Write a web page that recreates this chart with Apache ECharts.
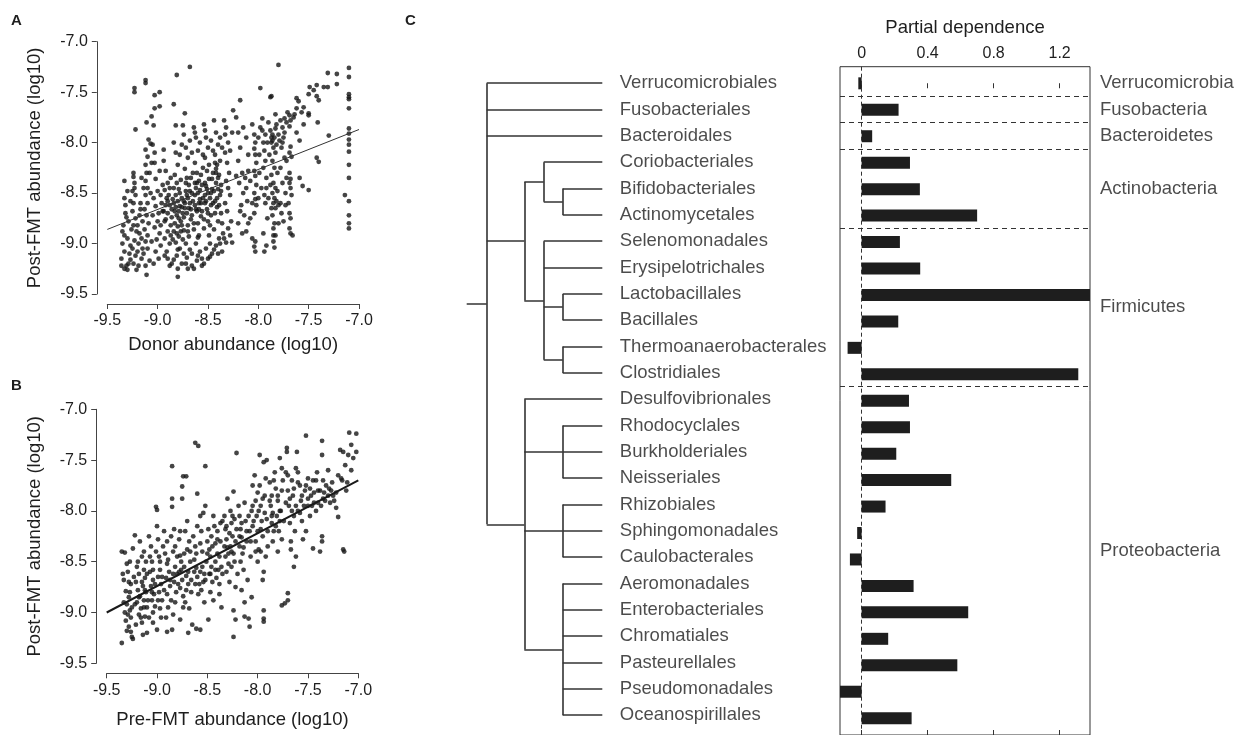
<!DOCTYPE html>
<html>
<head>
<meta charset="utf-8">
<script src="https://cdn.jsdelivr.net/npm/echarts@6/dist/echarts.min.js"></script>
<style>
  html, body { margin: 0; padding: 0; background: #fff; }
  #main { width: 1255px; height: 735px; }
</style>
</head>
<body>
<div id="main"></div>
<script>
// ---- panel A : donor vs post-FMT abundance (log10) ----
var scatterA = [
  [-8.68,-7.25],[-8.81,-7.33],[-9.12,-7.38],[-9.12,-7.41],[-9.23,-7.46],[-9.23,-7.50],[-8.98,-7.50],[-9.03,-7.53],
  [-8.98,-7.64],[-9.03,-7.66],[-8.84,-7.62],[-9.22,-7.87],[-9.06,-7.74],[-9.11,-7.80],[-9.04,-7.83],[-8.73,-7.71],
  [-8.82,-7.83],[-8.75,-7.83],[-9.09,-7.97],[-9.07,-8.01],[-8.94,-8.07],[-9.03,-8.10],
  [-7.80,-7.23],[-7.98,-7.46],[-8.18,-7.58],[-7.87,-7.54],
  [-9.33,-8.38],[-9.33,-8.55],[-9.32,-8.70],[-9.34,-8.82],[-9.33,-8.92],[-9.35,-9.00],[-9.33,-9.08],[-9.36,-9.15],
  [-9.31,-9.22],[-9.30,-9.26],[-9.32,-8.62],[-9.30,-8.48],[-9.29,-8.78],[-9.30,-8.95],[-9.28,-9.10],
  [-9.36,-9.22],[-9.33,-9.25],[-9.29,-9.20],[-9.27,-9.02],[-9.35,-8.88],[-9.31,-8.74],[-9.27,-8.58],[-9.25,-8.48],
  [-9.24,-8.30],[-9.24,-8.34],[-9.23,-8.40],[-9.23,-8.45],[-9.22,-8.52],[-9.24,-8.60],[-9.25,-8.68],[-9.22,-8.75],
  [-9.24,-8.82],[-9.21,-8.88],[-9.23,-8.97],[-9.25,-9.05],[-9.22,-9.12],[-9.24,-9.20],[-9.21,-9.26],[-9.18,-8.72],
  [-9.17,-8.60],[-9.19,-9.00],[-9.16,-9.15],[-9.18,-8.90],[-9.27,-9.16],[-9.26,-8.86],
  [-9.20,-8.82],[-9.20,-9.08],[-9.19,-9.22],[-9.17,-8.66],[-9.16,-8.95],[-9.15,-9.05],[-9.14,-8.45],[-9.16,-8.35],
  [-9.12,-8.07],[-9.10,-8.14],[-9.12,-8.22],[-9.11,-8.30],[-9.12,-8.38],[-9.10,-8.45],[-9.12,-8.52],[-9.10,-8.60],
  [-9.13,-8.66],[-9.11,-8.72],[-9.09,-8.80],[-9.13,-8.86],[-9.10,-8.92],[-9.12,-8.98],[-9.10,-9.05],[-9.14,-9.10],
  [-9.08,-9.17],[-9.12,-9.22],[-9.11,-9.31],[-9.07,-8.50],[-9.06,-8.20],[-9.06,-8.98],[-9.08,-8.30],[-9.15,-8.78],
  [-9.05,-8.02],[-9.03,-8.20],[-9.02,-8.36],[-9.00,-8.48],[-9.04,-8.55],[-9.02,-8.63],[-8.99,-8.70],[-9.00,-8.78],
  [-9.03,-8.84],[-8.98,-8.90],[-9.01,-8.96],[-8.97,-9.02],[-9.02,-9.08],[-8.99,-9.15],[-9.04,-9.20],[-8.96,-8.60],
  [-8.97,-8.82],[-8.95,-8.42],[-9.05,-8.72],[-8.98,-8.28],
  [-8.94,-8.18],[-8.92,-8.28],[-8.90,-8.40],[-8.93,-8.47],[-8.91,-8.55],[-8.88,-8.62],[-8.90,-8.70],[-8.92,-8.76],
  [-8.87,-8.82],[-8.90,-8.88],[-8.93,-8.95],[-8.88,-9.00],[-8.91,-9.08],[-8.90,-9.15],[-8.86,-9.20],[-8.89,-8.52],
  [-8.86,-8.66],[-8.85,-8.96],[-8.87,-8.35],[-8.94,-8.68],
  [-8.97,-8.52],[-8.95,-8.68],[-8.93,-8.78],[-8.92,-8.62],[-8.90,-8.58],[-8.88,-8.45],[-8.87,-8.92],[-8.86,-8.74],
  [-8.85,-8.56],[-8.84,-8.45],[-8.82,-8.64],[-8.81,-8.90],[-8.79,-8.68],[-8.78,-8.50],[-8.77,-8.37],[-8.76,-8.82],
  [-8.75,-8.96],[-8.74,-8.74],[-8.73,-8.60],[-8.72,-8.40],[-8.71,-8.52],[-8.70,-8.88],[-8.69,-8.65],[-8.68,-8.48],
  [-8.67,-8.35],[-8.66,-8.72],[-8.65,-8.58],[-8.64,-8.80],[-8.63,-8.52],[-8.62,-8.66],[-8.61,-8.40],[-8.60,-8.94],
  [-8.59,-8.60],[-8.58,-8.47],[-8.57,-8.32],[-8.56,-8.68],[-8.55,-8.55],[-8.54,-8.76],[-8.53,-8.40],[-8.52,-8.58],
  [-8.51,-8.46],[-8.50,-8.70],[-8.49,-8.22],[-8.48,-8.82],[-8.47,-8.50],[-8.46,-8.36],[-8.45,-8.60],[-8.44,-8.48],
  [-8.43,-8.70],[-8.42,-8.26],[-8.41,-8.55],[-8.40,-8.35],[-8.39,-8.62],[-8.38,-8.18],[-8.37,-8.48],[-8.36,-8.80],
  [-8.78,-8.12],[-8.76,-8.02],[-8.68,-7.98],[-8.66,-8.10],[-8.63,-7.90],[-8.58,-8.00],[-8.55,-8.12],[-8.53,-7.88],
  [-8.47,-7.98],[-8.45,-8.08],[-8.43,-8.20],[-8.38,-7.95],[-8.36,-8.05],[-8.33,-7.92],[-8.28,-8.08],[-8.26,-7.90],
  [-8.93,-9.12],[-8.88,-9.22],[-8.84,-9.16],[-8.80,-9.06],[-8.74,-9.10],[-8.72,-9.20],[-8.66,-9.10],[-8.64,-9.25],
  [-8.60,-9.12],[-8.56,-9.15],[-8.54,-9.20],[-8.50,-9.15],[-8.48,-9.00],[-8.46,-9.10],[-8.44,-9.06],[-8.40,-9.10],
  [-8.38,-9.00],[-8.35,-8.90],[-8.32,-8.99],[-8.28,-8.92],
  [-8.84,-8.00],[-8.82,-8.10],[-8.80,-8.22],[-8.83,-8.32],[-8.81,-8.40],[-8.79,-8.46],[-8.82,-8.52],[-8.80,-8.58],
  [-8.78,-8.63],[-8.83,-8.68],[-8.81,-8.72],[-8.77,-8.78],[-8.80,-8.83],[-8.84,-8.88],[-8.79,-8.93],[-8.82,-8.99],
  [-8.78,-9.05],[-8.81,-9.12],[-8.76,-9.20],[-8.80,-9.25],[-8.80,-9.33],[-8.76,-8.55],[-8.75,-8.70],[-8.77,-8.88],
  [-8.84,-8.60],[-8.79,-8.75],[-8.83,-8.80],[-8.76,-8.64],
  [-8.74,-7.92],[-8.72,-8.05],[-8.70,-8.15],[-8.73,-8.26],[-8.71,-8.35],[-8.69,-8.42],[-8.72,-8.48],[-8.70,-8.55],
  [-8.68,-8.60],[-8.73,-8.65],[-8.71,-8.70],[-8.67,-8.76],[-8.70,-8.82],[-8.74,-8.87],[-8.69,-8.93],[-8.72,-9.00],
  [-8.68,-9.06],[-8.71,-9.14],[-8.66,-9.22],[-8.70,-9.25],[-8.66,-8.50],[-8.65,-8.30],[-8.67,-8.66],[-8.74,-8.58],
  [-8.64,-7.85],[-8.62,-7.95],[-8.60,-8.08],[-8.63,-8.20],[-8.61,-8.30],[-8.59,-8.38],[-8.62,-8.45],[-8.60,-8.50],
  [-8.58,-8.56],[-8.63,-8.62],[-8.61,-8.68],[-8.57,-8.73],[-8.60,-8.80],[-8.64,-8.86],[-8.59,-8.92],[-8.62,-9.00],
  [-8.58,-9.08],[-8.61,-9.17],[-8.56,-9.22],[-8.56,-8.42],[-8.55,-8.25],[-8.57,-8.60],[-8.63,-8.40],[-8.59,-8.66],
  [-8.54,-7.82],[-8.52,-7.95],[-8.50,-8.05],[-8.53,-8.15],[-8.51,-8.28],[-8.49,-8.36],[-8.52,-8.43],[-8.50,-8.50],
  [-8.48,-8.55],[-8.53,-8.60],[-8.51,-8.66],[-8.47,-8.72],[-8.50,-8.78],[-8.54,-8.85],[-8.49,-8.92],[-8.52,-9.05],
  [-8.48,-9.13],[-8.46,-8.46],[-8.45,-8.30],[-8.53,-8.52],[-8.47,-8.62],
  [-8.44,-7.78],[-8.42,-7.90],[-8.40,-8.02],[-8.43,-8.12],[-8.41,-8.22],[-8.39,-8.32],[-8.42,-8.40],[-8.40,-8.46],
  [-8.38,-8.52],[-8.43,-8.58],[-8.41,-8.64],[-8.37,-8.70],[-8.40,-8.78],[-8.44,-8.86],[-8.39,-8.95],[-8.42,-9.02],
  [-8.36,-9.08],[-8.37,-8.42],[-8.42,-8.30],
  [-8.34,-7.78],[-8.32,-7.85],[-8.30,-8.00],[-8.33,-8.10],[-8.31,-8.20],[-8.29,-8.30],[-8.32,-8.38],[-8.30,-8.45],
  [-8.28,-8.52],[-8.33,-8.60],[-8.31,-8.68],[-8.27,-8.78],[-8.30,-8.85],[-8.34,-8.95],[-8.26,-8.99],[-8.25,-7.68],
  [-8.22,-7.75],[-8.20,-7.90],[-8.18,-8.05],[-8.20,-8.18],[-8.16,-8.30],[-8.19,-8.40],[-8.15,-8.50],[-8.17,-8.62],
  [-8.14,-8.72],[-8.20,-8.80],[-8.12,-8.88],[-8.13,-8.35],[-8.10,-8.28],[-8.11,-8.58],[-8.15,-7.85],[-8.22,-8.33],
  [-8.18,-8.68],[-8.16,-8.90],[-8.12,-8.45],[-8.10,-8.80],[-8.08,-8.75],[-8.06,-8.95],
  [-8.06,-7.82],[-8.04,-7.92],[-8.03,-8.00],[-8.04,-8.06],[-8.03,-8.12],[-8.02,-8.20],[-8.04,-8.28],[-8.03,-8.33],
  [-8.02,-8.42],[-8.04,-8.50],[-8.03,-8.56],[-8.02,-8.62],[-8.04,-8.70],[-8.03,-8.98],[-8.04,-9.03],[-8.03,-9.08],
  [-7.98,-7.85],[-7.99,-8.30],[-8.00,-8.55],
  [-8.12,-7.95],[-8.10,-8.12],[-8.08,-8.38],[-8.06,-8.60],[-8.00,-7.95],[-7.99,-8.12],[-7.97,-8.45],[-7.96,-7.76],
  [-7.93,-7.92],[-7.91,-8.00],[-7.90,-8.55],[-7.89,-8.12],[-7.88,-8.42],[-7.87,-8.65],[-7.86,-7.98],[-7.85,-8.92],
  [-7.83,-7.86],[-7.82,-8.02],[-7.81,-8.48],[-7.80,-8.80],[-7.79,-7.98],[-7.78,-8.25],[-7.77,-8.70],[-7.76,-8.00],
  [-7.74,-7.90],[-7.73,-8.62],[-7.72,-8.18],[-7.71,-7.70],[-7.70,-8.60],
  [-7.96,-7.88],[-7.95,-8.00],[-7.94,-8.08],[-7.93,-8.18],[-7.95,-8.25],[-7.92,-8.45],[-7.94,-8.52],[-7.93,-8.60],
  [-7.91,-8.75],[-7.95,-8.90],[-7.92,-9.02],[-7.94,-9.08],[-7.90,-7.80],[-7.92,-8.35],
  [-7.88,-7.88],[-7.86,-7.92],[-7.84,-7.95],[-7.87,-8.00],[-7.85,-8.05],[-7.83,-8.10],[-7.86,-8.18],[-7.84,-8.25],
  [-7.87,-8.32],[-7.85,-8.40],[-7.83,-8.45],[-7.86,-8.50],[-7.84,-8.55],[-7.85,-8.60],[-7.83,-8.65],[-7.86,-8.72],
  [-7.84,-8.80],[-7.85,-8.85],[-7.83,-8.92],[-7.85,-8.98],[-7.84,-9.04],[-7.82,-7.82],[-7.80,-7.92],[-7.81,-8.30],
  [-7.80,-8.62],[-7.88,-7.55],[-7.83,-7.72],[-7.87,-7.95],[-7.82,-8.58],
  [-7.78,-7.78],[-7.76,-7.85],[-7.75,-7.95],[-7.77,-8.05],[-7.74,-8.15],[-7.76,-8.40],[-7.73,-8.50],[-7.75,-8.78],
  [-7.72,-7.80],[-7.74,-7.76],[-7.78,-8.60],[-7.72,-8.35],
  [-7.69,-7.73],[-7.68,-7.78],[-7.69,-7.84],[-7.68,-8.04],[-7.69,-8.10],[-7.67,-8.14],[-7.69,-8.30],[-7.68,-8.36],
  [-7.69,-8.40],[-7.68,-8.45],[-7.67,-8.52],[-7.69,-8.70],[-7.68,-8.75],[-7.69,-8.85],[-7.68,-8.90],[-7.66,-8.92],
  [-7.65,-7.75],
  [-7.62,-7.56],[-7.60,-7.59],[-7.50,-7.52],[-7.42,-7.43],[-7.31,-7.31],[-7.22,-7.32],[-7.22,-7.42],[-7.35,-7.45],
  [-7.31,-7.45],[-7.41,-7.80],[-7.42,-8.15],[-7.40,-8.19],[-7.59,-8.35],[-7.56,-8.43],[-7.50,-8.47],[-7.30,-7.93],
  [-7.59,-7.98],[-7.50,-7.71],[-7.50,-7.73],[-7.45,-7.48],[-7.49,-7.45],[-7.42,-7.54],[-7.40,-7.58],[-7.55,-7.65],
  [-7.57,-7.70],[-7.62,-7.66],[-7.64,-7.72],[-7.62,-7.90],[-7.55,-7.82],
  [-7.10,-7.26],[-7.10,-7.35],[-7.10,-7.52],[-7.10,-7.55],[-7.10,-7.57],[-7.10,-7.66],[-7.10,-7.86],[-7.10,-7.91],
  [-7.10,-7.97],[-7.10,-8.02],[-7.10,-8.09],[-7.10,-8.22],[-7.10,-8.35],[-7.10,-8.58],[-7.10,-8.72],[-7.10,-8.80],
  [-7.10,-8.85],[-7.14,-8.52]
];
var fitA = [[-9.5, -8.86], [-7.0, -7.87]];

// ---- panel B : pre-FMT vs post-FMT abundance (log10) ----
var scatterB = [
  [-9.35,-8.40],[-9.32,-8.41],[-9.30,-8.52],[-9.29,-8.60],[-9.33,-8.68],[-9.31,-8.79],[-9.28,-8.85],[-9.30,-8.92],
  [-9.27,-8.98],[-9.29,-9.02],[-9.31,-9.08],[-9.28,-9.14],[-9.26,-9.19],[-9.35,-9.30],[-9.25,-9.24],[-9.24,-9.26],
  [-9.27,-8.80],[-9.25,-8.95],[-9.26,-9.05],[-9.24,-8.37],[-9.26,-8.72],
  [-9.34,-8.62],[-9.33,-8.90],[-9.32,-9.00],[-9.30,-9.18],[-9.28,-8.70],[-9.27,-8.50],[-9.23,-8.65],[-9.22,-8.92],
  [-9.21,-9.12],[-9.19,-8.50],[-9.18,-8.85],[-9.16,-9.05],[-9.15,-8.70],[-9.13,-8.95],[-9.12,-8.78],[-9.10,-8.62],
  [-9.22,-8.24],[-9.20,-8.55],[-9.18,-8.62],[-9.21,-8.70],[-9.19,-8.78],[-9.17,-8.84],[-9.20,-8.90],[-9.16,-8.96],
  [-9.18,-9.02],[-9.15,-9.10],[-9.14,-9.22],[-9.10,-9.20],[-9.17,-8.30],[-9.15,-8.45],[-9.13,-8.58],[-9.12,-8.66],
  [-9.14,-8.74],[-9.11,-8.80],[-9.13,-8.88],[-9.10,-8.95],[-9.12,-9.04],[-9.11,-8.50],[-9.13,-8.40],
  [-9.09,-8.88],[-9.08,-9.05],[-9.07,-8.45],[-9.05,-8.80],[-9.04,-8.58],[-9.02,-8.72],[-9.01,-8.40],[-8.99,-8.88],
  [-9.08,-8.25],[-9.06,-8.35],[-9.05,-8.50],[-9.07,-8.60],[-9.04,-8.68],[-9.06,-8.74],[-9.03,-8.82],[-9.05,-8.88],
  [-9.02,-8.94],[-9.04,-9.00],[-9.04,-9.10],[-9.00,-9.17],[-9.01,-7.96],[-9.00,-7.99],[-9.00,-8.15],[-8.99,-8.28],
  [-8.98,-8.45],[-8.97,-8.58],[-8.99,-8.65],[-8.96,-8.72],[-8.98,-8.80],[-8.95,-8.88],[-8.97,-8.96],[-8.96,-9.05],
  [-8.97,-8.50],[-8.95,-8.65],[-8.94,-8.35],[-8.93,-8.78],[-8.91,-9.05],[-8.89,-8.48],[-8.87,-8.68],[-8.86,-8.25],
  [-8.93,-8.20],[-8.90,-8.30],[-8.92,-8.42],[-8.90,-8.52],[-8.88,-8.60],[-8.91,-8.66],[-8.87,-8.74],[-8.90,-8.82],
  [-8.86,-8.88],[-8.89,-8.95],[-8.90,-9.19],[-8.85,-9.17],[-8.85,-7.88],[-8.85,-7.96],[-8.85,-7.56],[-8.83,-8.18],
  [-8.84,-8.40],[-8.82,-8.55],[-8.83,-8.70],[-8.81,-8.80],[-8.84,-9.02],[-8.80,-8.62],[-8.82,-8.35],
  [-8.84,-8.62],[-8.82,-8.90],[-8.80,-8.45],[-8.79,-8.72],[-8.77,-8.20],[-8.76,-8.58],[-8.74,-8.95],[-8.73,-8.42],
  [-8.78,-8.28],[-8.77,-8.44],[-8.76,-8.50],[-8.78,-8.60],[-8.75,-8.68],[-8.77,-8.76],[-8.74,-8.84],[-8.77,-9.07],
  [-8.75,-7.76],[-8.75,-7.88],[-8.74,-7.66],[-8.71,-7.66],[-8.72,-8.20],[-8.70,-8.38],[-8.73,-8.55],[-8.71,-8.64],
  [-8.69,-8.72],[-8.72,-8.90],[-8.69,-9.20],[-8.68,-8.30],[-8.67,-8.50],[-8.66,-8.80],[-8.68,-8.96],
  [-8.71,-8.78],[-8.70,-8.10],[-8.69,-8.60],[-8.67,-8.40],[-8.66,-8.68],[-8.65,-9.12],[-8.63,-8.60],[-8.61,-8.42],
  [-8.64,-8.25],[-8.62,-8.35],[-8.63,-8.48],[-8.61,-8.56],[-8.60,-8.65],[-8.62,-8.72],[-8.59,-8.82],[-8.61,-9.16],
  [-8.57,-9.17],[-8.60,-7.83],[-8.62,-7.33],[-8.59,-7.36],[-8.57,-8.05],[-8.56,-8.20],[-8.55,-8.40],[-8.57,-8.60],
  [-8.54,-8.70],[-8.56,-8.78],[-8.53,-8.90],[-8.52,-7.56],[-8.52,-7.95],[-8.51,-8.50],[-8.50,-8.30],[-8.53,-8.62],
  [-8.60,-8.15],[-8.58,-8.72],[-8.57,-8.32],[-8.55,-8.55],[-8.54,-8.02],[-8.52,-8.68],[-8.50,-8.42],[-8.49,-8.18],
  [-8.49,-9.07],[-8.48,-8.38],[-8.47,-8.45],[-8.46,-8.55],[-8.48,-8.62],[-8.45,-8.70],[-8.47,-8.80],[-8.44,-8.88],
  [-8.46,-8.25],[-8.43,-8.15],[-8.42,-8.32],[-8.40,-8.42],[-8.42,-8.50],[-8.39,-8.58],[-8.41,-8.66],[-8.38,-8.72],
  [-8.40,-8.20],[-8.37,-8.30],[-8.36,-8.55],[-8.35,-8.10],[-8.38,-8.82],[-8.36,-8.95],
  [-8.47,-8.62],[-8.45,-8.35],[-8.44,-8.05],[-8.42,-8.58],[-8.40,-8.28],[-8.38,-8.45],[-8.37,-8.12],[-8.35,-8.62],
  [-8.33,-8.05],[-8.32,-8.18],[-8.31,-8.28],[-8.30,-8.36],[-8.32,-8.45],[-8.29,-8.52],[-8.31,-8.60],[-8.28,-8.70],
  [-8.30,-7.88],[-8.27,-8.00],[-8.26,-8.12],[-8.25,-8.25],[-8.27,-8.35],[-8.24,-8.42],[-8.26,-8.55],[-8.24,-8.98],
  [-8.22,-9.07],[-8.24,-9.24],[-8.24,-7.81],[-8.21,-7.43],[-8.23,-8.08],[-8.22,-8.30],[-8.20,-8.62],[-8.22,-8.75],
  [-8.33,-8.35],[-8.31,-8.15],[-8.29,-8.42],[-8.28,-8.22],[-8.26,-8.40],[-8.25,-8.05],[-8.23,-8.50],[-8.21,-8.18],
  [-8.18,-8.05],[-8.17,-8.18],[-8.16,-8.26],[-8.18,-8.35],[-8.15,-8.42],[-8.17,-8.50],[-8.14,-8.58],[-8.16,-8.78],
  [-8.13,-8.90],[-8.13,-9.04],[-8.12,-8.10],[-8.11,-8.30],[-8.10,-8.68],[-8.09,-9.06],[-8.08,-9.14],[-8.08,-8.20],
  [-8.07,-8.45],[-8.06,-8.85],[-8.05,-7.75],[-8.06,-8.00],[-8.05,-8.15],
  [-8.19,-7.95],[-8.18,-8.25],[-8.16,-8.12],[-8.14,-8.36],[-8.13,-7.92],[-8.11,-8.20],[-8.09,-8.05],[-8.07,-8.30],
  [-8.03,-7.65],[-8.02,-7.90],[-8.01,-8.05],[-8.00,-8.20],[-8.02,-8.30],[-7.99,-8.38],[-8.00,-8.50],[-7.98,-7.45],
  [-7.98,-7.75],[-7.97,-7.95],[-7.96,-8.10],[-7.95,-8.25],[-7.97,-8.40],[-7.94,-7.52],[-7.91,-7.50],[-7.94,-8.60],
  [-7.95,-8.68],[-7.94,-8.98],[-7.94,-9.06],[-7.94,-9.09],[-7.92,-7.68],[-7.93,-7.85],[-7.91,-8.08],[-7.90,-8.35],
  [-7.92,-8.45],
  [-8.05,-7.95],[-8.04,-8.10],[-8.02,-8.40],[-8.00,-7.82],[-7.99,-8.00],[-7.97,-8.18],[-7.95,-7.88],[-7.93,-8.02],
  [-7.88,-7.72],[-7.86,-7.85],[-7.87,-7.95],[-7.85,-8.02],[-7.86,-8.12],[-7.84,-8.20],[-7.85,-8.30],[-7.83,-7.62],
  [-7.82,-7.78],[-7.80,-7.90],[-7.81,-8.05],[-7.79,-8.20],[-7.80,-8.40],[-7.78,-7.48],[-7.77,-8.00],[-7.76,-8.28],
  [-7.76,-8.93],[-7.75,-7.70],[-7.78,-8.10],[-7.76,-7.58],
  [-7.90,-8.20],[-7.88,-7.90],[-7.86,-8.05],[-7.84,-7.70],[-7.82,-8.15],[-7.80,-7.85],[-7.78,-8.00],[-7.76,-7.80],
  [-7.73,-8.91],[-7.71,-7.38],[-7.71,-7.42],[-7.72,-7.62],[-7.70,-7.80],[-7.70,-8.81],[-7.70,-8.88],[-7.69,-7.95],
  [-7.68,-8.12],[-7.67,-8.30],[-7.66,-7.70],[-7.65,-7.85],[-7.64,-8.05],[-7.63,-8.20],[-7.62,-8.45],[-7.61,-7.42],
  [-7.60,-7.62],[-7.62,-7.58],[-7.64,-8.55],[-7.60,-8.00],[-7.67,-8.38],
  [-7.74,-8.10],[-7.72,-7.92],[-7.70,-7.65],[-7.68,-7.88],[-7.66,-8.00],[-7.64,-7.78],[-7.62,-7.95],[-7.60,-7.72],
  [-7.58,-7.75],[-7.57,-7.90],[-7.56,-8.10],[-7.55,-8.28],[-7.53,-7.80],[-7.52,-7.26],[-7.52,-8.20],[-7.50,-7.68],
  [-7.50,-7.95],[-7.48,-8.05],[-7.47,-7.85],[-7.45,-8.37],[-7.45,-7.70],[-7.44,-7.92],[-7.42,-8.00],[-7.41,-7.62],
  [-7.40,-7.80],
  [-7.58,-8.02],[-7.56,-7.85],[-7.54,-7.95],[-7.52,-7.75],[-7.50,-7.88],[-7.48,-7.78],[-7.46,-7.95],[-7.44,-7.82],
  [-7.38,-8.40],[-7.37,-7.95],[-7.36,-7.31],[-7.36,-7.45],[-7.36,-8.25],[-7.36,-8.30],[-7.35,-7.70],[-7.34,-7.82],
  [-7.33,-7.90],[-7.30,-7.60],[-7.29,-7.78],[-7.28,-7.92],[-7.26,-7.72],[-7.25,-7.85],[-7.22,-7.97],[-7.20,-8.06],
  [-7.22,-7.82],[-7.20,-7.65],
  [-7.42,-7.70],[-7.40,-7.92],[-7.38,-7.80],[-7.35,-7.88],[-7.32,-7.75],[-7.30,-7.85],[-7.27,-7.80],[-7.24,-7.90],
  [-7.18,-7.40],[-7.15,-7.42],[-7.17,-7.68],[-7.16,-7.70],[-7.15,-8.38],[-7.14,-8.40],[-7.13,-7.55],[-7.12,-7.80],
  [-7.09,-7.23],[-7.07,-7.35],[-7.07,-7.60],[-7.05,-7.48],[-7.02,-7.24],[-7.02,-7.42],[-7.10,-7.45],[-7.11,-7.72]
];
var fitB = [[-9.5, -9.0], [-7.0, -7.70]];

// ---- panel C : orders, partial dependence, phyla ----
var orders = ['Verrucomicrobiales', 'Fusobacteriales', 'Bacteroidales', 'Coriobacteriales', 'Bifidobacteriales',
  'Actinomycetales', 'Selenomonadales', 'Erysipelotrichales', 'Lactobacillales', 'Bacillales',
  'Thermoanaerobacterales', 'Clostridiales', 'Desulfovibrionales', 'Rhodocyclales', 'Burkholderiales',
  'Neisseriales', 'Rhizobiales', 'Sphingomonadales', 'Caulobacterales', 'Aeromonadales', 'Enterobacteriales',
  'Chromatiales', 'Pasteurellales', 'Pseudomonadales', 'Oceanospirillales'];
var partialDep = [-0.02, 0.224, 0.064, 0.293, 0.353, 0.70, 0.232, 0.355, 1.45, 0.222, -0.085, 1.313,
  0.287, 0.293, 0.21, 0.543, 0.145, -0.027, -0.071, 0.315, 0.646, 0.161, 0.58, -0.14, 0.303];
var pdTicks = [0, 0.4, 0.8, 1.2];
var phyla = ['Verrucomicrobia', 'Fusobacteria', 'Bacteroidetes', 'Actinobacteria', 'Firmicutes', 'Proteobacteria'];
var phylumRows = [0, 1, 2, 4, 8.5, 17.75];
var phylumBreaks = [0.5, 1.5, 2.5, 5.5, 11.5];

// tree: leaves are row indices into orders, h = branch position of each node
var tree = {h: 0, c: [0, 1, 2,
  {h: 1.92, c: [
    {h: 2.91, c: [3, {h: 3.88, c: [4, 5]}]},
    {h: 2.91, c: [6, 7, {h: 3.88, c: [8, 9]}, {h: 3.88, c: [10, 11]}]}]},
  {h: 1.92, c: [12, {h: 3.88, c: [13, 14, 15]}, {h: 3.88, c: [16, 17, 18]},
    {h: 3.88, c: [19, 20, 21, 22, 23, 24]}]}]};
var leafH = 5.9, stubH = -1.02;

var segs = [];
function place(n) {
  if (typeof n === 'number') return {y: n, h: leafH};
  var kids = n.c.map(place);
  var y0 = kids[0].y, y1 = kids[kids.length - 1].y;
  segs.push({coords: [[n.h, y0], [n.h, y1]]});
  kids.forEach(function (k) { segs.push({coords: [[n.h, k.y], [k.h, k.y]]}); });
  return {y: (y0 + y1) / 2, h: n.h};
}
var rootPos = place(tree);
segs.push({coords: [[stubH, rootPos.y], [rootPos.h, rootPos.y]]});

var FONT = 'Liberation Sans, Arial, Helvetica, sans-serif';
var INK = '#1e1e1e';
var AXC = '#444';

function logX(grid, name, gap) {
  return {
    gridIndex: grid, type: 'value', min: -9.5, max: -7.0, interval: 0.5, offset: 10,
    axisLine: {lineStyle: {color: AXC, width: 1}},
    axisTick: {length: 5, lineStyle: {color: AXC}},
    axisLabel: {margin: 9, color: INK, fontSize: 16, fontFamily: FONT,
      formatter: function (v) { return v.toFixed(1); }},
    splitLine: {show: false},
    name: name, nameLocation: 'middle', nameGap: gap,
    nameTextStyle: {fontSize: 18.5, color: INK, fontFamily: FONT}
  };
}
function logY(grid, name) {
  return {
    gridIndex: grid, type: 'value', min: -9.5, max: -7.0, interval: 0.5, offset: 10.5,
    axisLine: {show: true, lineStyle: {color: AXC, width: 1}},
    axisTick: {show: true, length: 5, lineStyle: {color: AXC}},
    axisLabel: {margin: 9, color: INK, fontSize: 16, fontFamily: FONT,
      formatter: function (v) { return v.toFixed(1); }},
    splitLine: {show: false},
    name: name, nameLocation: 'middle', nameGap: 52, nameRotate: 90,
    nameTextStyle: {fontSize: 18.5, color: INK, fontFamily: FONT}
  };
}
var rowAxis = function (grid) {
  return {gridIndex: grid, type: 'value', inverse: true, min: -0.628, max: 24.75, show: false};
};

var chart = echarts.init(document.getElementById('main'));
chart.setOption({
  backgroundColor: '#fff',
  animation: false,
  textStyle: {fontFamily: FONT},
  title: [
    {text: 'A', left: 11, top: 13, padding: 0, textStyle: {fontSize: 15, fontWeight: 'bold', color: INK}},
    {text: 'B', left: 11, top: 378, padding: 0, textStyle: {fontSize: 15, fontWeight: 'bold', color: INK}},
    {text: 'C', left: 405, top: 13, padding: 0, textStyle: {fontSize: 15, fontWeight: 'bold', color: INK}}
  ],
  grid: [
    {left: 107.3, top: 41.7, width: 251.7, height: 252.3},
    {left: 106.7, top: 409.3, width: 251.6, height: 254},
    {left: 466.7, top: 66.7, width: 135.6, height: 671.1},
    {left: 840, top: 66.7, width: 250, height: 671.1, show: true, borderColor: '#333', borderWidth: 1},
    {left: 840, top: 70.1, width: 250, height: 661.3}
  ],
  xAxis: [
    logX(0, 'Donor abundance (log10)', 31),
    logX(1, 'Pre-FMT abundance (log10)', 37),
    {gridIndex: 2, type: 'value', min: stubH, max: leafH, show: false},
    {gridIndex: 3, type: 'value', position: 'top', min: -0.131, max: 1.384,
      axisLine: {show: false},
      axisTick: {show: true, inside: true, length: 5, customValues: pdTicks, lineStyle: {color: '#333'}},
      axisLabel: {show: true, margin: 5, customValues: pdTicks, color: INK, fontSize: 16},
      splitLine: {show: false},
      name: 'Partial dependence', nameLocation: 'middle', nameGap: 29,
      nameTextStyle: {fontSize: 18.5, color: INK}},
    {gridIndex: 3, type: 'value', position: 'bottom', min: -0.131, max: 1.384,
      axisLine: {show: false},
      axisTick: {show: true, inside: true, length: 5, customValues: pdTicks, lineStyle: {color: '#333'}},
      axisLabel: {show: false}, splitLine: {show: false}},
    {gridIndex: 4, type: 'value', min: -0.131, max: 1.384, show: false}
  ],
  yAxis: [
    logY(0, 'Post-FMT abundance (log10)'),
    logY(1, 'Post-FMT abundance (log10)'),
    rowAxis(2),
    rowAxis(3),
    {gridIndex: 4, type: 'category', inverse: true, data: orders, show: false}
  ],
  series: [
    {type: 'scatter', xAxisIndex: 0, yAxisIndex: 0, data: scatterA, symbolSize: 4.8,
      itemStyle: {color: '#161616'}, silent: true},
    {type: 'line', xAxisIndex: 0, yAxisIndex: 0, data: fitA, symbol: 'none',
      lineStyle: {color: '#333', width: 1}, silent: true},
    {type: 'scatter', xAxisIndex: 1, yAxisIndex: 1, data: scatterB, symbolSize: 4.8,
      itemStyle: {color: '#161616'}, silent: true},
    {type: 'line', xAxisIndex: 1, yAxisIndex: 1, data: fitB, symbol: 'none',
      lineStyle: {color: '#1a1a1a', width: 2}, silent: true},
    // dendrogram
    {type: 'lines', coordinateSystem: 'cartesian2d', xAxisIndex: 2, yAxisIndex: 2, data: segs,
      lineStyle: {color: '#333', width: 1.6, opacity: 1}, silent: true},
    // order names next to the leaves
    {type: 'scatter', xAxisIndex: 2, yAxisIndex: 2, symbolSize: 0, silent: true,
      data: orders.map(function (n, i) { return {name: n, value: [leafH, i]}; }),
      label: {show: true, position: 'right', distance: 17.5, formatter: '{b}', color: INK, fontSize: 18.5}},
    // phylum names, separators and zero line
    {type: 'scatter', xAxisIndex: 3, yAxisIndex: 3, symbolSize: 0, silent: true, clip: false,
      data: phyla.map(function (n, i) { return {name: n, value: [1.384, phylumRows[i]]}; }),
      label: {show: true, position: 'right', distance: 10, formatter: '{b}', color: INK, fontSize: 18.5},
      markLine: {silent: true, symbol: 'none', label: {show: false},
        data: phylumBreaks.map(function (b) {
          return {yAxis: b, lineStyle: {type: [5, 4], color: '#333', width: 1}};
        }).concat([{xAxis: 0, lineStyle: {type: [4, 3], color: '#333', width: 1}}])}},
    {type: 'bar', xAxisIndex: 5, yAxisIndex: 4, data: partialDep, barWidth: 12,
      itemStyle: {color: '#1e1e1e'}, silent: true}
  ]
});
</script>
</body>
</html>
